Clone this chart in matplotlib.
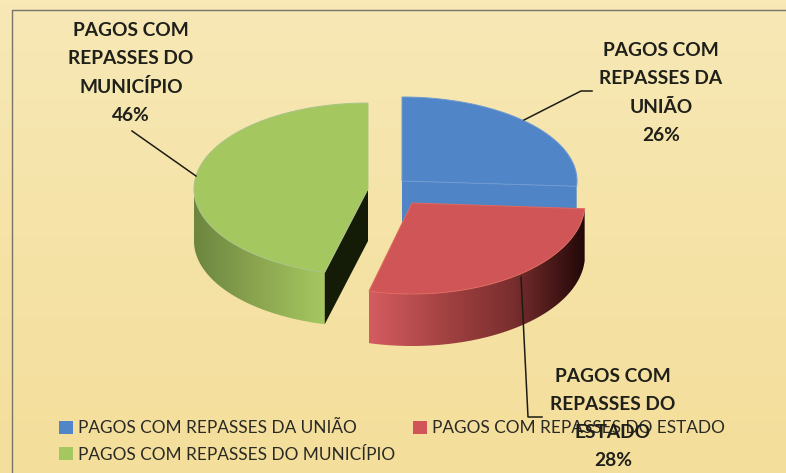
import numpy as np
import matplotlib
matplotlib.use("Agg")
import matplotlib.pyplot as plt
from matplotlib.colors import LinearSegmentedColormap
from matplotlib.patches import Patch, Polygon

labels = ["PAGOS COM REPASSES DA UNIÃO", "PAGOS COM REPASSES DO ESTADO", "PAGOS COM REPASSES DO MUNICÍPIO"]
shares = [26, 28, 46]
top_colors = ["#5085c8", "#cf5557", "#a4c75f"]
side_colors = [["#4f84c6", "#4f84c6"],
               ["#d45c60", "#a54343", "#7a2e2e", "#230808"],
               ["#6c8640", "#8ca650", "#a5c860"]]
edge_colors = ["#6f9bd2", "#e0695f", "#a9c488"]

# centre x, centre y, x radius, y radius of each slice, in pixels
centres = [(402, 181, 175, 84), (412, 203, 173, 91), (368, 189, 174, 86)]
depth = 52

fig = plt.figure(figsize=(7.86, 4.73), dpi=100)
ax = fig.add_axes([0, 0, 1, 1])
ax.set_xlim(0, 786)
ax.set_ylim(473, 0)
ax.axis("off")

# background
bg = LinearSegmentedColormap.from_list("bg", ["#f7e8b6", "#f5e3a7", "#f4de9b"])
ax.imshow(np.linspace(0, 1, 100).reshape(-1, 1), extent=(0, 786, 473, 0), cmap=bg, aspect="auto", zorder=0)
ax.plot([12, 12, 786], [473, 10, 10], color="#77756a", lw=1.0, zorder=1)


def rim(cx, cy, rx, ry, a0, a1):
    t = np.radians(np.linspace(a0, a1, 120))
    return cx + rx * np.cos(t), cy - ry * np.sin(t)


def shaded(xs, ys, colors, z):
    cmap = LinearSegmentedColormap.from_list("side", colors)
    poly = Polygon(np.column_stack([xs, ys]), closed=True, fc="none", ec="none", zorder=z)
    ax.add_patch(poly)
    im = ax.imshow(np.linspace(0, 1, 200).reshape(1, -1), cmap=cmap, aspect="auto", zorder=z,
                   extent=(xs.min(), xs.max(), ys.max(), ys.min()))
    im.set_clip_path(poly)


# slice angles clockwise from 12 o'clock
ends = np.cumsum(shares) / sum(shares) * 360
starts = np.r_[0, ends[:-1]]
a0s = 90 - starts
a1s = 90 - ends
draw_order = [0, 2, 1]

for n, i in enumerate(draw_order):
    cx, cy, rx, ry = centres[i]
    z = 2 + n * 3
    # outer wall, only the part facing the viewer
    lo = max(a1s[i], -180)
    hi = min(a0s[i], 0)
    x, y = rim(cx, cy, rx, ry, lo, hi)
    xs = np.r_[x, x[::-1]]
    ys = np.r_[y, y[::-1] + depth]
    shaded(xs, ys, side_colors[i], z)
    # cut face turned to the viewer
    if i == 0:
        ex, ey = rim(cx, cy, rx, ry, a1s[i], a1s[i] + 0.01)
        ax.add_patch(Polygon([(cx, cy), (ex[0], ey[0]), (ex[0], ey[0] + depth), (cx, cy + depth)],
                             fc=side_colors[i][0], ec="none", zorder=z))
    if i == 2:
        ex, ey = rim(cx, cy, rx, ry, a0s[i], a0s[i] + 0.01)
        ax.add_patch(Polygon([(cx, cy), (ex[0], ey[0]), (ex[0], ey[0] + depth), (cx, cy + depth)],
                             fc="#141c08", ec="none", zorder=z))
    # top face
    x, y = rim(cx, cy, rx, ry, a0s[i], a1s[i])
    ax.add_patch(Polygon(np.column_stack([np.r_[cx, x], np.r_[cy, y]]), fc=top_colors[i],
                         ec=edge_colors[i], lw=0.7, zorder=z + 1))

# leader lines
line_kw = dict(color="#1c1c14", lw=1.1, zorder=12)
ax.plot([524, 581, 592], [120, 91, 91], **line_kw)
ax.plot([196, 132], [176, 131], **line_kw)
ax.plot([521, 528, 542], [277, 417, 417], **line_kw)

# data labels
label_lines = [["PAGOS COM", "REPASSES DA", "UNIÃO"], ["PAGOS COM", "REPASSES DO", "ESTADO"],
               ["PAGOS COM", "REPASSES DO", "MUNICÍPIO"]]
label_x = [661, 613, 131]
label_y = [51, 376, 31]
for i in range(3):
    rows = label_lines[i] + [f"{shares[i]}%"]
    for k, row in enumerate(rows):
        ax.text(label_x[i], label_y[i] + k * 28, row, ha="center", va="center", family="Lato",
                fontweight="bold", fontsize=13.8, color="#20201a", zorder=14)

# legend, first column takes union and municipio
order = [0, 2, 1]
handles = [Patch(fc=top_colors[i], ec="none", label=labels[i]) for i in order]
ax.legend(handles=handles, loc="lower left", bbox_to_anchor=(59 / 786, 1 - 462.5 / 473), ncol=2, frameon=False,
          prop={"family": "Lato", "size": 12.4}, labelcolor="#2a2a24", handlelength=0.8, handleheight=0.8,
          handletextpad=0.3, columnspacing=1.05, labelspacing=0.6, borderpad=0, borderaxespad=0).set_zorder(13)

fig.savefig("out.png", dpi=100)
